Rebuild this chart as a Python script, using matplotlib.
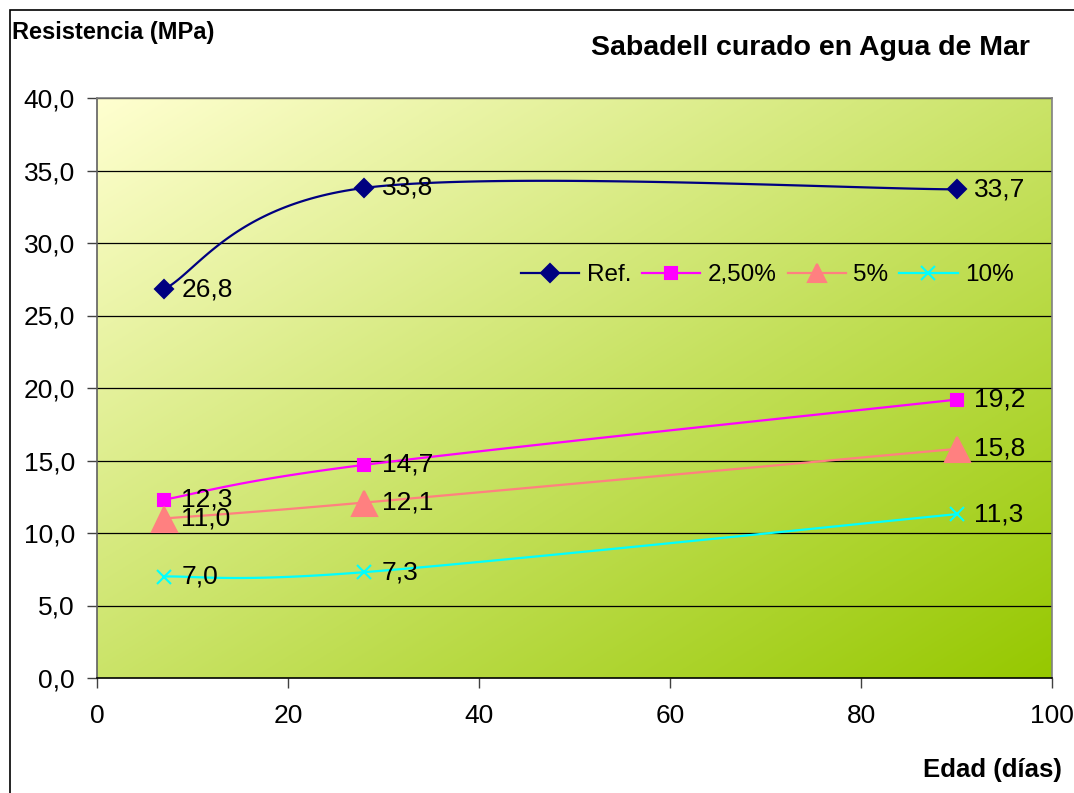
import numpy as np
import matplotlib.pyplot as plt
from matplotlib.patches import Rectangle

plt.rcParams['font.family'] = ['Liberation Sans', 'DejaVu Sans']

# ages (days) and strengths (MPa)
edad = [7, 28, 90]
series_names = ['Ref.', '2,50%', '5%', '10%']
ref = [26.8, 33.8, 33.7]
p250 = [12.3, 14.7, 19.2]
p5 = [11.0, 12.1, 15.8]
p10 = [7.0, 7.3, 11.3]
x_ticks = [0, 20, 40, 60, 80, 100]
y_ticks = [0, 5, 10, 15, 20, 25, 30, 35, 40]


def smooth(xs, ys, n=60):
    # spreadsheet-style smoothed line: cubic bezier with 1/6 tangent
    pts = np.column_stack([xs, ys]).astype(float)
    m = len(pts)
    out = []
    for i in range(m - 1):
        p0 = pts[i - 1] if i > 0 else pts[i]
        p1 = pts[i]
        p2 = pts[i + 1]
        p3 = pts[i + 2] if i + 2 < m else pts[i + 1]
        c1 = p1 + (p2 - p0) / 6
        c2 = p2 - (p3 - p1) / 6
        t = np.linspace(0, 1, n)[:, None]
        seg = ((1 - t) ** 3) * p1 + 3 * (1 - t) ** 2 * t * c1 + 3 * (1 - t) * t ** 2 * c2 + t ** 3 * p2
        out.append(seg)
    out = np.vstack(out)
    return out[:, 0], out[:, 1]


fig = plt.figure(figsize=(10.74, 7.93), dpi=100)
ax = fig.add_axes([97 / 1074, 1 - 678 / 793, (1052 - 97) / 1074, (678 - 98) / 793])

# figure frame
fig.patches.append(Rectangle((10 / 1074, -0.1), 1.2, 1 - 10 / 793 + 0.1,
                             transform=fig.transFigure, fill=False,
                             edgecolor='black', linewidth=1.2))

# diagonal gradient background
gx, gy = np.meshgrid(np.linspace(0, 1, 300), np.linspace(0, 1, 300))
t = (gx + gy) / 2
c0 = np.array([255, 255, 208]) / 255
c1 = np.array([150, 200, 0]) / 255
img = c0[None, None, :] * (1 - t[..., None]) + c1[None, None, :] * t[..., None]
ax.imshow(img, extent=[0, 100, 0, 40], aspect='auto', origin='upper', zorder=0)

ax.set_xlim(0, 100)
ax.set_ylim(0, 40)
ax.set_xticks(x_ticks)
ax.set_yticks(y_ticks)
ax.set_yticklabels([f'{v:.1f}'.replace('.', ',') for v in y_ticks])
ax.tick_params(labelsize=19, direction='out', length=7, width=1, color='#404040')
ax.tick_params(axis='x', pad=12)
ax.tick_params(axis='y', pad=9)
for v in y_ticks[1:]:
    ax.axhline(v, color='black', linewidth=0.9, zorder=1)
ax.spines['left'].set_color('#606060')
ax.spines['bottom'].set_color('black')
ax.spines['top'].set_color('#808080')
ax.spines['right'].set_color('#808080')
for s in ax.spines.values():
    s.set_linewidth(1.2)

# (values, colour, marker, marker size, legend marker size)
styles = [
    (ref, '#000080', 'D', 9, 9),
    (p250, '#FF00FF', 's', 8, 8),
    (p5, '#FF8080', '^', 18, 13),
    (p10, '#00FFFF', 'x', 10, 10),
]
for name, (vals, col, mk, ms, lms) in zip(series_names, styles):
    sx, sy = smooth(edad, vals)
    ax.plot(sx, sy, color=col, linewidth=1.6, zorder=3)
    ax.plot(edad, vals, linestyle='none', marker=mk, color=col, markersize=ms,
            markeredgewidth=1.5, zorder=4)
    ax.plot([], [], color=col, marker=mk, markersize=lms,
            markeredgewidth=1.5, linewidth=1.6, label=name)
    for xv, yv in zip(edad, vals):
        ax.annotate(f'{yv:.1f}'.replace('.', ','), (xv, yv), xytext=(12.5, 0),
                    textcoords='offset points', va='center', ha='left',
                    fontsize=19, zorder=5)

ax.legend(loc='center left', bbox_to_anchor=(0.444, 0.694), ncol=4, frameon=False,
          fontsize=17.5, handlelength=2.4, columnspacing=0.45, handletextpad=0.3,
          borderaxespad=0, borderpad=0)

fig.text(12 / 1074, 1 - 32 / 793, 'Resistencia (MPa)', fontsize=17, fontweight='bold',
         va='center', ha='left')
fig.text(1030 / 1074, 1 - 48 / 793, 'Sabadell curado en Agua de Mar', fontsize=20.5,
         fontweight='bold', va='center', ha='right')
fig.text(1062 / 1074, 1 - 770 / 793, 'Edad (días)', fontsize=18.5, fontweight='bold',
         va='center', ha='right')

fig.savefig('out.png', dpi=100)
